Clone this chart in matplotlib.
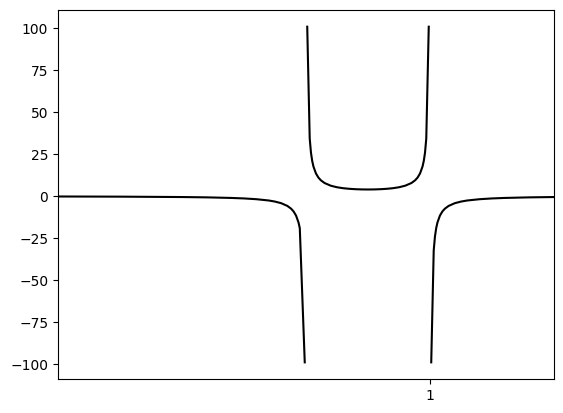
import numpy as np
import matplotlib.pyplot as plt

# left branch (x < 0)
x_left = [-2.0, -1.5, -1.0, -0.8, -0.6, -0.5, -0.4, -0.3, -0.25, -0.2, -0.15,
          -0.12, -0.1, -0.08, -0.06, -0.05, -0.01]
y_left = [-0.17, -0.27, -0.5, -0.69, -1.04, -1.33, -1.79, -2.56, -3.2, -4.17, -5.8,
          -7.44, -9.09, -11.57, -15.72, -19.05, -99.0]

# middle branch (0 < x < 1)
x_mid = [0.01, 0.03, 0.04, 0.05, 0.06, 0.08, 0.1, 0.12, 0.15, 0.2, 0.25, 0.3, 0.35,
         0.4, 0.45, 0.5, 0.55, 0.6, 0.65, 0.7, 0.75, 0.8, 0.85, 0.88, 0.9, 0.92,
         0.94, 0.95, 0.96, 0.97, 0.99]
y_mid = [101.0, 34.36, 26.04, 21.05, 17.73, 13.59, 11.11, 9.47, 7.84, 6.25, 5.33, 4.76, 4.4,
         4.17, 4.04, 4.0, 4.04, 4.17, 4.4, 4.76, 5.33, 6.25, 7.84, 9.47, 11.11, 13.59,
         17.73, 21.05, 26.04, 34.36, 101.0]

# right branch (x > 1)
x_right = [1.01, 1.03, 1.04, 1.05, 1.06, 1.08, 1.1, 1.12, 1.15, 1.2, 1.25, 1.3, 1.4,
           1.5, 1.6, 1.8, 2.0]
y_right = [-99.0, -32.36, -24.04, -19.05, -15.72, -11.57, -9.09, -7.44, -5.8, -4.17, -3.2,
           -2.56, -1.79, -1.33, -1.04, -0.69, -0.5]

fig = plt.figure(figsize=(5.63, 4.13), dpi=100)
ax = fig.add_axes([0.103, 0.082, 0.881, 0.894])

ax.plot(x_left, y_left, color="black")
ax.plot(x_mid, y_mid, color="black")
ax.plot(x_right, y_right, color="black")

ax.set_xlim(-2, 2)
ax.set_xticks([1])

fig.savefig("out.png")
